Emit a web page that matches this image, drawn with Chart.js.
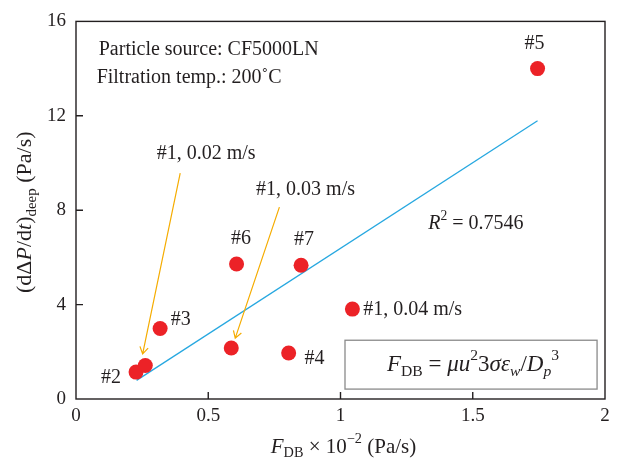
<!DOCTYPE html>
<html>
<head>
<meta charset="utf-8">
<script src="https://cdn.jsdelivr.net/npm/chart.js@4"></script>
<style>
  html, body { margin: 0; padding: 0; background: #fff; }
  #wrap { width: 623px; height: 462px; }
</style>
</head>
<body>
<div id="wrap"><canvas id="chart" width="623" height="462"></canvas></div>
<script>
// measured points (F_DB x 1e-2, dDP/dt deep)
const pointNames = ["#2", "#1, 0.02 m/s", "#3", "#1, 0.03 m/s", "#6", "#4", "#7", "#1, 0.04 m/s", "#5"];
const xValues = [0.227, 0.262, 0.318, 0.587, 0.607, 0.804, 0.851, 1.045, 1.745];
const yValues = [1.14, 1.42, 2.99, 2.16, 5.72, 1.95, 5.67, 3.81, 14.0];

// linear fit end points
const fitX = [0.229, 1.745];
const fitY = [0.79, 11.79];
const rSquared = "0.7546";

const xTicks = [0, 0.5, 1, 1.5, 2];
const yTicks = [0, 4, 8, 12, 16];

// labels placed in data units
const labelTexts = ["#2", "#3", "#4", "#5", "#6", "#7"];
const labelX = [0.132, 0.396, 0.902, 1.733, 0.624, 0.862];
const labelY = [0.88, 3.37, 1.70, 15.07, 6.81, 6.73];

const noteTexts = ["#1, 0.02 m/s", "#1, 0.03 m/s", "#1, 0.04 m/s", "Particle source: CF5000LN", "Filtration temp.: 200\u02DAC"];
const noteX = [0.305, 0.681, 1.086, 0.086, 0.078];
const noteY = [10.40, 8.88, 3.79, 14.79, 13.63];

// orange arrows: from -> to
const arrowFromX = [0.394, 0.769];
const arrowFromY = [9.57, 8.13];
const arrowToX = [0.252, 0.602];
const arrowToY = [1.91, 2.58];

const SERIF = "'Liberation Serif', 'DejaVu Serif', serif";
const FS = 20;

function fontFor(style, size) {
  const it = style.includes("i") ? "italic " : "";
  return `${it}${size}px ${SERIF}`;
}

// parts: [text, style] ; style may contain i, b (sub), p (sup)
function drawRich(ctx, parts, x, y, size, align) {
  const items = parts.map(([t, s]) => {
    const small = s.includes("b") || s.includes("p");
    const sz = small ? size * 0.68 : size;
    ctx.font = fontFor(s, sz);
    return { t, s, sz, w: ctx.measureText(t).width };
  });
  const total = items.reduce((a, b) => a + b.w, 0);
  let cx = align === "center" ? x - total / 2 : x;
  ctx.textAlign = "left";
  ctx.textBaseline = "middle";
  for (const it of items) {
    ctx.font = fontFor(it.s, it.sz);
    let dy = 0;
    if (it.s.includes("b")) dy = size * 0.3;
    if (it.s.includes("p")) dy = -size * 0.38;
    ctx.fillText(it.t, cx, y + dy);
    cx += it.w;
  }
}

const decorPlugin = {
  id: "decor",
  afterDatasetsDraw(chart) {
    const { ctx, chartArea: a, scales: { x, y } } = chart;
    ctx.save();
    // frame
    ctx.strokeStyle = "#231f20";
    ctx.lineWidth = 1.4;
    ctx.strokeRect(a.left, a.top, a.right - a.left, a.bottom - a.top);
    // inward ticks
    ctx.beginPath();
    xTicks.slice(1, -1).forEach((v) => {
      const px = x.getPixelForValue(v);
      ctx.moveTo(px, a.bottom);
      ctx.lineTo(px, a.bottom - 7);
    });
    yTicks.slice(1, -1).forEach((v) => {
      const py = y.getPixelForValue(v);
      ctx.moveTo(a.left, py);
      ctx.lineTo(a.left + 7, py);
    });
    ctx.stroke();

    // arrows
    ctx.strokeStyle = "#f5ac00";
    ctx.lineWidth = 1.2;
    arrowFromX.forEach((fx, i) => {
      const x1 = x.getPixelForValue(fx), y1 = y.getPixelForValue(arrowFromY[i]);
      const x2 = x.getPixelForValue(arrowToX[i]), y2 = y.getPixelForValue(arrowToY[i]);
      const ang = Math.atan2(y2 - y1, x2 - x1);
      ctx.beginPath();
      ctx.moveTo(x1, y1);
      ctx.lineTo(x2, y2);
      const h = 8;
      ctx.moveTo(x2 - h * Math.cos(ang - 0.55), y2 - h * Math.sin(ang - 0.55));
      ctx.lineTo(x2, y2);
      ctx.lineTo(x2 - h * Math.cos(ang + 0.55), y2 - h * Math.sin(ang + 0.55));
      ctx.stroke();
    });

    ctx.fillStyle = "#231f20";
    ctx.textBaseline = "middle";
    ctx.font = `${FS}px ${SERIF}`;
    labelTexts.forEach((t, i) => {
      ctx.textAlign = "center";
      ctx.fillText(t, x.getPixelForValue(labelX[i]), y.getPixelForValue(labelY[i]));
    });
    noteTexts.forEach((t, i) => {
      ctx.textAlign = "left";
      ctx.fillText(t, x.getPixelForValue(noteX[i]), y.getPixelForValue(noteY[i]));
    });

    // R^2
    drawRich(ctx, [["R", "i"], ["2", "p"], [" = " + rSquared, ""]],
      x.getPixelForValue(1.332), y.getPixelForValue(7.41), FS, "left");

    // formula box
    const bx1 = x.getPixelForValue(1.017), bx2 = x.getPixelForValue(1.97);
    const by1 = y.getPixelForValue(2.49), by2 = y.getPixelForValue(0.42);
    ctx.strokeStyle = "#8a8a8a";
    ctx.lineWidth = 1.3;
    ctx.strokeRect(bx1, by1, bx2 - bx1, by2 - by1);
    drawRich(ctx, [["F", "i"], ["DB", "b"], [" = ", ""], ["\u03BCu", "i"], ["2", "p"], ["3", ""],
      ["\u03C3\u03B5", "i"], ["w", "ib"], ["/", ""], ["D", "i"], ["p", "ib"], ["3", "p"]],
      (bx1 + bx2) / 2 + 2, (by1 + by2) / 2, 23, "center");

    // axis titles
    drawRich(ctx, [["F", "i"], ["DB", "b"], [" \u00D7 10", ""], ["\u22122", "p"], [" (Pa/s)", ""]],
      (a.left + a.right) / 2 + 3, 447, 21, "center");
    ctx.save();
    ctx.translate(25, (a.top + a.bottom) / 2 + 2);
    ctx.rotate(-Math.PI / 2);
    drawRich(ctx, [["(d\u0394", ""], ["P", "i"], ["/d", ""], ["t", "i"], [")", ""], ["deep", "b"], [" (Pa/s)", ""]],
      0, 0, 22, "center");
    ctx.restore();
    ctx.restore();
  },
};

new Chart(document.getElementById("chart"), {
  type: "scatter",
  data: {
    datasets: [
      {
        label: "points",
        data: xValues.map((v, i) => ({ x: v, y: yValues[i] })),
        backgroundColor: "#ec2227",
        borderWidth: 0,
        pointRadius: 7.5,
        order: 1,
      },
      {
        label: "fit",
        type: "line",
        data: fitX.map((v, i) => ({ x: v, y: fitY[i] })),
        borderColor: "#27a8e0",
        borderWidth: 1.3,
        pointRadius: 0,
        fill: false,
        order: 2,
      },
    ],
  },
  plugins: [decorPlugin],
  options: {
    responsive: false,
    animation: false,
    devicePixelRatio: 1,
    layout: { padding: { top: 16, right: 18, left: 0, bottom: 0 } },
    plugins: { legend: { display: false }, tooltip: { enabled: false } },
    scales: {
      x: {
        type: "linear",
        min: 0,
        max: 2,
        afterBuildTicks: (s) => { s.ticks = xTicks.map((v) => ({ value: v })); },
        afterFit: (s) => { s.height = 63; },
        grid: { display: false, drawTicks: false },
        border: { display: false },
        ticks: {
          padding: 6,
          color: "#231f20",
          font: { family: SERIF, size: 19 },
          callback: (v) => String(v),
        },
      },
      y: {
        type: "linear",
        min: 0,
        max: 16,
        afterBuildTicks: (s) => { s.ticks = yTicks.map((v) => ({ value: v })); },
        afterFit: (s) => { s.width = 76; },
        grid: { display: false, drawTicks: false },
        border: { display: false },
        ticks: {
          padding: 10,
          color: "#231f20",
          font: { family: SERIF, size: 19 },
        },
      },
    },
  },
});
</script>
</body>
</html>
